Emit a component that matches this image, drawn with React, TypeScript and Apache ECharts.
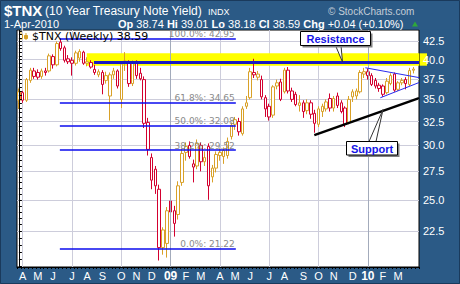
import { useEffect, useRef } from 'react';
import * as echarts from 'echarts';

// One slot per trading week (Friday date); the last slot is left empty as right padding.
const firstWeekEnding = Date.UTC(2008, 3, 4);
const weekSlots = 106;
const weekDates: string[] = Array.from({ length: weekSlots }, (_, i) =>
  new Date(firstWeekEnding + i * 7 * 86400000).toISOString().slice(0, 10)
);

// $TNX weekly bars (yield x 10)
const opens = [
  34.9, 35.8, 34.9, 37.3, 38.5, 38.3, 37.8, 38.5, 38.5, 40.4,
  39.3, 42.4, 41.6, 40.1, 39.9, 39.5, 40.2, 41.0, 39.5, 39.6,
  38.7, 38.0, 38.3, 37.9, 35.4, 38.0, 38.5, 35.0, 39.6, 39.6,
  36.9, 39.6, 38.2, 37.4, 32.4, 28.8, 27.7, 25.9, 21.3, 21.6,
  24.9, 24.1, 23.8, 26.5, 29.3, 30.0, 28.2, 28.0, 30.0, 28.4,
  29.9, 27.0, 27.8, 29.0, 28.9, 29.0, 30.9, 32.2, 32.5, 31.2,
  34.2, 35.2, 38.3, 37.7, 37.4, 35.2, 34.2, 33.2, 36.6, 37.1,
  35.9, 38.6, 36.0, 35.6, 34.3, 34.6, 33.7, 34.6, 33.4, 32.2,
  33.6, 33.9, 35.1, 34.0, 35.4, 34.6, 34.0, 32.4, 35.3, 35.4,
  35.9, 38.1, 38.4, 37.9, 37.3, 36.7, 36.6, 35.8, 36.9, 38.1,
  36.2, 37.0, 37.4, 36.8, 38.74,
];
const highs = [
  36.3, 36.0, 37.6, 38.9, 38.9, 38.7, 38.8, 38.9, 40.8, 40.7,
  42.5, 42.95, 41.9, 40.6, 40.3, 41.2, 41.4, 41.2, 40.3, 39.9,
  39.3, 38.7, 38.6, 38.4, 38.3, 38.9, 38.7, 39.8, 41.0, 39.9,
  39.9, 39.9, 38.9, 37.8, 32.9, 29.2, 28.0, 26.3, 22.8, 24.4,
  25.8, 24.5, 26.6, 29.7, 30.3, 30.4, 28.6, 30.6, 30.3, 29.4,
  30.2, 28.1, 29.4, 29.7, 29.8, 30.8, 32.4, 33.0, 32.9, 34.2,
  35.4, 38.9, 40.1, 38.5, 37.9, 35.5, 34.5, 36.7, 37.4, 37.5,
  38.9, 39.0, 36.4, 35.9, 35.5, 34.9, 35.0, 34.9, 33.8, 34.2,
  34.5, 35.0, 35.7, 35.4, 35.8, 34.9, 34.2, 35.4, 36.2, 36.3,
  38.6, 38.9, 38.8, 38.2, 37.6, 37.0, 36.8, 37.6, 38.2, 38.3,
  37.2, 37.6, 37.7, 38.9, 39.01,
];
const lows = [
  33.9, 34.6, 34.7, 37.0, 37.5, 37.4, 37.5, 37.9, 38.3, 38.8,
  39.1, 41.2, 39.6, 39.4, 37.9, 39.2, 39.7, 39.3, 39.1, 38.8,
  38.0, 37.7, 35.6, 36.9, 32.6, 37.5, 36.3, 34.0, 38.5, 36.5,
  36.6, 37.5, 37.3, 31.8, 29.0, 25.9, 25.5, 20.4, 20.8, 20.6,
  22.6, 22.1, 23.4, 26.2, 28.5, 28.7, 26.5, 27.7, 27.5, 28.0,
  25.0, 26.5, 27.4, 28.5, 28.2, 28.7, 30.6, 31.6, 31.0, 31.0,
  33.9, 35.0, 37.6, 37.3, 35.0, 33.0, 32.6, 32.9, 36.2, 34.8,
  35.7, 35.7, 34.7, 34.2, 33.6, 32.9, 33.3, 32.8, 31.3, 31.9,
  33.0, 33.6, 33.6, 33.6, 34.0, 33.4, 31.9, 32.2, 34.7, 35.0,
  35.7, 37.6, 37.4, 36.6, 36.3, 35.9, 35.3, 35.6, 36.7, 35.9,
  36.0, 36.7, 36.2, 36.6, 38.18,
];
const closes = [
  35.9, 34.9, 37.4, 38.6, 37.8, 37.7, 38.5, 38.3, 40.5, 39.3,
  42.2, 41.5, 39.9, 39.7, 39.5, 40.9, 41.1, 39.5, 39.7, 39.0,
  38.3, 38.4, 36.8, 37.3, 38.0, 38.5, 36.6, 39.4, 39.8, 36.9,
  39.5, 37.9, 37.5, 32.3, 29.6, 26.7, 26.2, 21.3, 22.6, 24.1,
  24.0, 23.1, 26.2, 29.2, 29.9, 28.9, 27.9, 30.2, 28.4, 28.8,
  26.2, 27.8, 29.1, 29.3, 29.5, 30.4, 32.1, 32.7, 31.4, 33.9,
  34.6, 38.4, 38.0, 38.1, 35.3, 33.9, 33.0, 36.5, 37.0, 35.0,
  38.6, 36.0, 35.0, 34.4, 34.6, 33.6, 34.6, 33.3, 32.3, 33.9,
  34.2, 34.7, 34.0, 35.1, 34.3, 33.6, 32.2, 35.0, 35.9, 36.0,
  38.3, 38.4, 37.9, 36.8, 36.6, 36.3, 35.6, 37.2, 37.9, 36.1,
  37.0, 37.3, 36.9, 38.55, 38.59,
];

// Log price scale
const priceFloor = 19.96;
const priceCeil = 44.16;
const priceTicks = [22.5, 25, 27.5, 30, 32.5, 35, 37.5, 40, 42.5];
const minorTicks = Array.from({ length: 49 }, (_, i) => 20 + i * 0.5);

// Fibonacci retracement levels
const fibTags = ['100.0%', '61.8%', '50.0%', '38.2%', '0.0%'];
const fibLevels = [42.95, 34.65, 32.08, 29.52, 21.22];
const fibSpan = [10.8, 57.2];

// Annotations (week index, price)
const resistanceZone = { from: 17.9, to: 105.5, low: 39.18, high: 40.84 };
const resistanceLine = { from: 19.8, to: 105.5, level: 39.67 };
const supportLine = [[77.9, 31.05], [105.5, 35.15]];
const triangleUpper = [[91.35, 38.91], [105.5, 37.65]];
const triangleLower = [[95.3, 35.19], [105.5, 37.03]];

const lastDateText = '1-Apr-2010';
const monthLetters = ['J', 'F', 'M', 'A', 'M', 'J', 'J', 'A', 'S', 'O', 'N', 'D'];

const BG = '#2B5A86';
const GOLD = '#D9A128';
const RED = '#D3002F';
const SANS = 'Arial, "Liberation Sans", Helvetica, sans-serif';
const LN = Math.log;

const isMonthStart = (d: string) => {
  const day = +d.slice(8, 10);
  return day >= 5 && day <= 11;
};
const monthOf = (d: string) => +d.slice(5, 7) - 1;
const barCount = closes.length;

const quarterStarts = weekDates
  .map((d, i) => (i < barCount && isMonthStart(d) && monthOf(d) % 3 === 0 ? i : -1))
  .filter((i) => i >= 0);
const yearStarts = weekDates
  .map((d, i) => (i < barCount && isMonthStart(d) && monthOf(d) === 0 ? i : -1))
  .filter((i) => i >= 0);

const candleData = closes.map((c, i) => {
  const prev = i > 0 ? closes[i - 1] : opens[i];
  const col = c >= prev ? GOLD : RED;
  return {
    value: [LN(opens[i]), LN(c), LN(lows[i]), LN(highs[i])],
    itemStyle: { color: '#FFFFFF', color0: col, borderColor: col, borderColor0: col },
  };
});

const last = barCount - 1;
const chg = closes[last] - closes[last - 1];
const chgPct = (chg / closes[last - 1]) * 100;
const sign = (v: number) => (v >= 0 ? '+' : '');
const quoteLine =
  `{b|Op} ${opens[last].toFixed(2)} {b|Hi} ${highs[last].toFixed(2)} ` +
  `{b|Lo} ${lows[last].toFixed(2)} {b|Cl} ${closes[last].toFixed(2)} ` +
  `{b|Chg} ${sign(chg)}${chg.toFixed(2)} (${sign(chgPct)}${chgPct.toFixed(2)}%)`;

const seg = (pts: number[][], color: string, width: number) => [
  { coord: [pts[0][0], LN(pts[0][1])], lineStyle: { color, width, type: 'solid' } },
  { coord: [pts[1][0], LN(pts[1][1])] },
];

function buildGraphic(zoneTail: { x: number; y: number; h: number } | null) {
  const els: any[] = [
    // header strip drawn over anything that runs above the plot
    { type: 'rect', z: 90, silent: true, shape: { x: 0, y: 0, width: 460, height: 29.5 }, style: { fill: BG } },
    {
      type: 'text', x: 4, y: 10, z: 100, silent: true,
      style: { text: '$TNX', fill: '#FFFFFF', font: `bold 15px ${SANS}`, verticalAlign: 'middle' },
    },
    {
      type: 'text', x: 45, y: 10.5, z: 100, silent: true,
      style: { text: '(10 Year Treasury Note Yield)', fill: '#FFFFFF', font: `12px ${SANS}`, verticalAlign: 'middle' },
    },
    {
      type: 'text', x: 208, y: 11.5, z: 100, silent: true,
      style: { text: 'INDX', fill: '#FFFFFF', font: `9px ${SANS}`, verticalAlign: 'middle' },
    },
    {
      type: 'text', x: 4, y: 24, z: 100, silent: true,
      style: { text: lastDateText, fill: '#FFFFFF', font: `11px ${SANS}`, verticalAlign: 'middle' },
    },
    {
      type: 'text', x: 118, y: 24, z: 100, silent: true,
      style: {
        text: quoteLine, fill: '#FFFFFF', font: `11px ${SANS}`, verticalAlign: 'middle',
        rich: { b: { fontWeight: 'bold', fontSize: 11, fontFamily: SANS, fill: '#FFFFFF' } },
      },
    },
    {
      type: 'polygon', z: 100, silent: true,
      shape: { points: [[412, 26.5], [418, 26.5], [415, 21.5]] },
      style: { fill: '#2FA83A' },
    },
    {
      type: 'text', x: 328, y: 11, z: 100, silent: true,
      style: { text: '\u00A9 StockCharts.com', fill: '#C3CDD8', font: `10px ${SANS}`, verticalAlign: 'middle' },
    },
    // legend
    {
      type: 'group', x: 19, y: 32, z: 100, silent: true,
      children: [
        { type: 'line', shape: { x1: 2, y1: 0, x2: 2, y2: 8 }, style: { stroke: GOLD, lineWidth: 1 } },
        { type: 'rect', shape: { x: 0.5, y: 2.5, width: 3, height: 4 }, style: { fill: '#FFFFFF', stroke: GOLD, lineWidth: 1 } },
        { type: 'line', shape: { x1: 7, y1: 1, x2: 7, y2: 8 }, style: { stroke: GOLD, lineWidth: 1 } },
        { type: 'rect', shape: { x: 5.5, y: 3.5, width: 3, height: 3 }, style: { fill: GOLD, stroke: GOLD, lineWidth: 1 } },
      ],
    },
    {
      type: 'text', x: 32, y: 36.5, z: 100, silent: true,
      style: {
        text: `$TNX (Weekly) ${closes[last].toFixed(2)}`, fill: '#000000',
        font: '11px "DejaVu Sans", Verdana, sans-serif', verticalAlign: 'middle',
      },
    },
    // Resistance callout
    {
      type: 'polygon', z: 110, silent: true,
      shape: { points: [[335.5, 45.5], [341, 45.5], [342.5, 62]] },
      style: { fill: '#FFFFFF', stroke: '#333333', lineWidth: 1 },
    },
    { type: 'rect', z: 110, silent: true, shape: { x: 302.5, y: 33.5, width: 70, height: 14 }, style: { fill: '#808080' } },
    { type: 'rect', z: 111, silent: true, shape: { x: 300.5, y: 31.5, width: 70, height: 14 }, style: { fill: '#FFFFFF', stroke: '#000000', lineWidth: 1 } },
    {
      type: 'text', x: 335.5, y: 38.7, z: 112, silent: true,
      style: { text: 'Resistance', fill: '#1414E6', font: `bold 11px ${SANS}`, align: 'center', verticalAlign: 'middle' },
    },
    // Support callout
    {
      type: 'polygon', z: 110, silent: true,
      shape: { points: [[369, 141.5], [376, 141.5], [383, 109.5]] },
      style: { fill: '#FFFFFF', stroke: '#333333', lineWidth: 1 },
    },
    { type: 'rect', z: 110, silent: true, shape: { x: 348.5, y: 143.5, width: 51, height: 13.5 }, style: { fill: '#808080' } },
    { type: 'rect', z: 111, silent: true, shape: { x: 346.5, y: 141.5, width: 51, height: 13.5 }, style: { fill: '#FFFFFF', stroke: '#000000', lineWidth: 1 } },
    {
      type: 'text', x: 372, y: 148.5, z: 112, silent: true,
      style: { text: 'Support', fill: '#1414E6', font: `bold 11px ${SANS}`, align: 'center', verticalAlign: 'middle' },
    },
    {
      type: 'rect', z: 120, silent: true,
      shape: { x: 0.5, y: 0.5, width: 459, height: 283 },
      style: { fill: 'none', stroke: '#1A3A5C', lineWidth: 1 },
    },
  ];
  if (zoneTail) {
    // the highlighted zone runs a few pixels past the right edge of the plot, under the price labels
    els.push({
      type: 'rect', z: -1, silent: true,
      shape: { x: zoneTail.x, y: zoneTail.y, width: 8, height: zoneTail.h },
      style: { fill: '#FFFF00' },
    });
  }
  return els;
}

function buildOption() {
  return {
    animation: false,
    backgroundColor: BG,
    grid: {
      left: 17, right: 41, top: 30, bottom: 17,
      show: true, backgroundColor: '#FFFFFF', borderColor: '#000000', borderWidth: 1,
    },
    xAxis: [
      {
        type: 'category', gridIndex: 0, data: weekDates, boundaryGap: true,
        axisLine: { show: true, lineStyle: { color: '#000000', width: 1 } },
        axisTick: { show: true, interval: 0, length: 2, lineStyle: { color: '#000000' } },
        axisLabel: {
          interval: (i: number, v: string) => i < barCount && isMonthStart(v),
          formatter: (v: string) => {
            const m = monthOf(v);
            return m === 0 ? `{yr|${v.slice(2, 4)}}` : monthLetters[m];
          },
          color: '#FFFFFF', fontSize: 11, fontFamily: SANS, margin: 3,
          rich: { yr: { fontWeight: 'bold', fontSize: 12, color: '#FFFFFF', fontFamily: SANS } },
        },
        splitLine: { show: false },
      },
      {
        type: 'value', gridIndex: 0, position: 'top', min: -0.5, max: weekSlots - 0.5,
        axisLine: { show: false }, axisLabel: { show: false },
        axisTick: { show: false, customValues: quarterStarts },
        splitLine: { show: true, lineStyle: { color: '#CDCDDB', width: 1 } },
      },
    ],
    yAxis: [
      {
        type: 'value', gridIndex: 0, position: 'right', min: LN(priceFloor), max: LN(priceCeil), z: 10,
        axisLine: { show: true, lineStyle: { color: '#000000' } },
        axisTick: { show: true, length: 3, customValues: minorTicks.map(LN), lineStyle: { color: '#000000' } },
        axisLabel: {
          customValues: priceTicks.map(LN),
          formatter: (v: number) => Math.exp(v).toFixed(1),
          color: '#FFFFFF', fontSize: 11, fontFamily: SANS, margin: 4,
        },
        splitLine: { show: false },
      },
      {
        type: 'value', gridIndex: 0, position: 'left', min: LN(priceFloor), max: LN(priceCeil),
        axisLine: { show: false }, axisLabel: { show: false },
        axisTick: { show: false, customValues: priceTicks.map(LN) },
        splitLine: { show: true, lineStyle: { color: '#CDCDDB', width: 1 } },
      },
    ],
    series: [
      {
        name: 'zone', type: 'line', xAxisIndex: 1, yAxisIndex: 0, data: [], silent: true, z: 1,
        markArea: {
          silent: true,
          itemStyle: { color: '#FFFF00' },
          data: [[
            { coord: [resistanceZone.from, LN(resistanceZone.high)] },
            { coord: [resistanceZone.to, LN(resistanceZone.low)] },
          ]],
        },
        markLine: {
          silent: true, symbol: ['none', 'none'], label: { show: false },
          lineStyle: { color: '#A3ABBB', width: 1, type: 'solid' },
          data: yearStarts.map((i) => ({ xAxis: i })),
        },
      },
      {
        name: '$TNX', type: 'candlestick', xAxisIndex: 0, yAxisIndex: 0,
        data: candleData, barWidth: 3, z: 3, itemStyle: { borderWidth: 1 },
      },
      {
        name: 'studies', type: 'line', xAxisIndex: 1, yAxisIndex: 0, data: [], silent: true, z: 5,
        markLine: {
          silent: true, symbol: ['none', 'none'], label: { show: false },
          lineStyle: { type: 'solid' },
          data: [
            ...fibLevels.map((lv, k) => [
              {
                coord: [fibSpan[0], LN(lv)],
                lineStyle: { color: '#0B0BEE', width: 1.5, type: 'solid' },
                label: {
                  show: true, position: 'insideEndTop', formatter: `${fibTags[k]}: ${lv.toFixed(2)}`,
                  color: '#8A8A8A', fontFamily: '"DejaVu Sans", Verdana, sans-serif', fontSize: 9, distance: [1, 0],
                },
              },
              { coord: [fibSpan[1], LN(lv)] },
            ]),
            [
              { coord: [resistanceLine.from, LN(resistanceLine.level)], lineStyle: { color: '#1A1AC4', width: 3, type: 'solid' } },
              { coord: [resistanceLine.to, LN(resistanceLine.level)] },
            ],
            seg(supportLine, '#000000', 2.5),
            seg(triangleUpper, '#2A2AEE', 1),
            seg(triangleLower, '#2A2AEE', 1),
          ],
        },
      },
    ],
    graphic: buildGraphic(null),
  };
}

export default function App() {
  const ref = useRef<HTMLDivElement>(null);
  useEffect(() => {
    if (!ref.current) return;
    const chart = echarts.init(ref.current, null, { renderer: 'svg' });
    chart.setOption(buildOption() as any);
    const finder = { xAxisIndex: 1, yAxisIndex: 0 };
    const top = chart.convertToPixel(finder as any, [resistanceZone.to, LN(resistanceZone.high)]) as number[];
    const bottom = chart.convertToPixel(finder as any, [resistanceZone.to, LN(resistanceZone.low)]) as number[];
    if (top && bottom) {
      chart.setOption(
        { graphic: buildGraphic({ x: top[0], y: top[1], h: bottom[1] - top[1] }) } as any,
        { replaceMerge: ['graphic'] } as any
      );
    }
    return () => chart.dispose();
  }, []);
  return (
    <div
      ref={ref}
      style={{ position: 'fixed', left: 0, top: 0, width: 460, height: 284 }}
    />
  );
}
